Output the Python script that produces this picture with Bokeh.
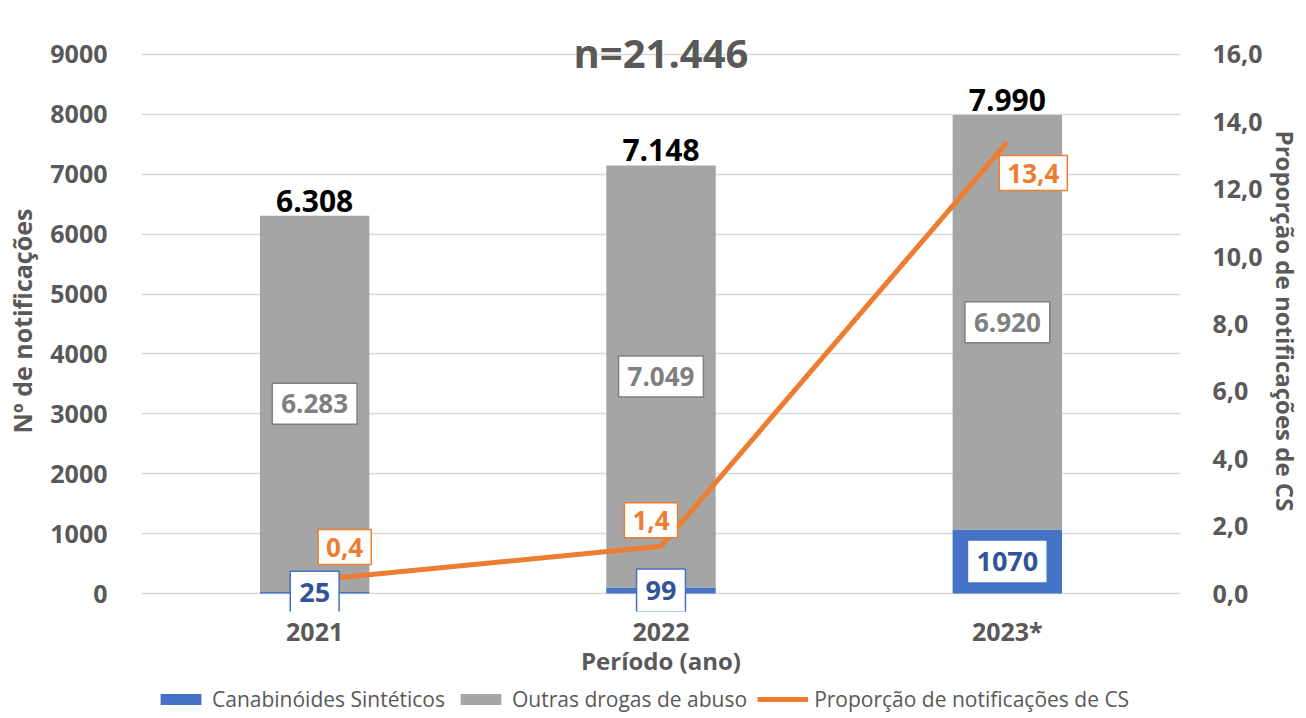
from bokeh.plotting import figure
from bokeh.layouts import column
from bokeh.models import (FactorRange, Range1d, LinearAxis, ColumnDataSource, Label,
                          Legend, LegendItem, FixedTicker, CustomJSTickFormatter)
from bokeh.embed import file_html
from bokeh.resources import INLINE

years = ["2021", "2022", "2023*"]
cs_counts = [25, 99, 1070]
other_counts = [6283, 7049, 6920]
totals = [6308, 7148, 7990]
cs_share = [0.4, 1.4, 13.4]

series_names = ["Canabinóides Sintéticos", "Outras drogas de abuso", "Proporção de notificações de CS"]
y_ticks = [0, 1000, 2000, 3000, 4000, 5000, 6000, 7000, 8000, 9000]
y2_ticks = [0, 2, 4, 6, 8, 10, 12, 14, 16]

# view extents (layout, not data)
Y_LO, Y_HI = -300, 9400
Y2_SCALE = 16 / 9000

# label offsets (style)
share_dx = [30, -10, 26]
share_dy = [33, 26, -31]

FONT = "Open Sans"
BLUE = "#4472C4"
GRAY = "#A5A5A5"
ORANGE = "#ED7D31"
TXT = "#595959"

def thousands(v):
    return f"{v:,}".replace(",", ".")

W, H, HL = 1304, 684, 30
p = figure(x_range=FactorRange(*years, range_padding=0), y_range=Range1d(Y_LO, Y_HI),
           width=W, height=H, output_backend="svg", toolbar_location=None,
           min_border_left=141, min_border_right=W - 1185, min_border_top=30, min_border_bottom=H - 611)
p.extra_y_ranges = {"right": Range1d(Y_LO * Y2_SCALE, Y_HI * Y2_SCALE)}
p.outline_line_color = None
p.background_fill_color = "white"

src = ColumnDataSource(dict(years=years, cs=cs_counts, other=other_counts, share=cs_share))

bars = p.vbar_stack(["cs", "other"], x="years", width=0.316, color=[BLUE, GRAY], source=src, line_color=None)
ln = p.line(x="years", y="share", source=src, y_range_name="right", line_width=5, color=ORANGE)

p.yaxis[0].ticker = FixedTicker(ticks=y_ticks)
p.yaxis[0].axis_label = "Nº de notificações"
yr = LinearAxis(y_range_name="right", ticker=FixedTicker(ticks=y2_ticks),
                formatter=CustomJSTickFormatter(code="return tick.toFixed(1).replace('.', ',');"),
                axis_label="Proporção de notificações de CS")
p.add_layout(yr, "right")
p.xaxis.axis_label = "Período (ano)"

for ax in [p.yaxis[0], yr, p.xaxis[0]]:
    ax.axis_line_color = None
    ax.major_tick_line_color = None
    ax.minor_tick_line_color = None
    ax.major_label_text_font = FONT
    ax.major_label_text_font_style = "bold"
    ax.major_label_text_color = TXT
    ax.major_label_text_font_size = "25px"
    ax.axis_label_text_font = FONT
    ax.axis_label_text_font_style = "bold"
    ax.axis_label_text_color = TXT
    ax.axis_label_text_font_size = "25px"
p.xaxis[0].axis_label_text_font_size = "24px"
yr.axis_label_text_font_size = "24px"
p.yaxis[0].major_label_standoff = 28
yr.major_label_standoff = 26
p.xaxis[0].major_label_standoff = -4
p.xaxis[0].axis_label_standoff = -7
p.yaxis[0].axis_label_standoff = 8
yr.axis_label_standoff = 3

p.xgrid.grid_line_color = None
p.ygrid.grid_line_color = "#D9D9D9"
p.ygrid.grid_line_width = 1.5
p.ygrid.ticker = FixedTicker(ticks=y_ticks)

xs = [i + 0.5 for i in range(len(years))]

def box_label(x, y, text, size, color, border, pad, y_range_name="default", dx=0, dy=0, baseline="middle"):
    kw = dict(x=x, y=y, text=text, text_align="center", text_baseline=baseline, text_font=FONT,
              text_font_style="bold", text_font_size=size, text_color=color,
              x_offset=dx, y_offset=dy, y_range_name=y_range_name)
    if border is not None:
        kw.update(background_fill_color="white", border_line_color=border, border_line_width=1.5,
                  padding=dict(left=pad[0], right=pad[0], top=pad[1], bottom=pad[1]))
    p.add_layout(Label(**kw))

for i, x in enumerate(xs):
    box_label(x, totals[i], thousands(totals[i]), "30px", "black", None, 0, baseline="bottom", dy=4)
    box_label(x, cs_counts[i] + other_counts[i] / 2, thousands(other_counts[i]), "26px", "#7F7F7F", "#7F7F7F", (9, 11))
    box_label(x, cs_counts[i] / 2, str(cs_counts[i]), "27px", "#2F5597", BLUE, (9, 12))
    box_label(x, cs_share[i], f"{cs_share[i]:.1f}".replace(".", ","), "26px", ORANGE, ORANGE, (8, 8),
              y_range_name="right", dx=share_dx[i], dy=share_dy[i])

box_label(1.5, 9030, "n=" + thousands(sum(totals)), "40px", TXT, None, 0)

# legend strip below the chart: its view range lies above all values, so only the legend shows
pl = figure(x_range=FactorRange(*years, range_padding=0), y_range=Range1d(20000, 40000), width=W, height=HL,
            output_backend="svg", toolbar_location=None, min_border=0)
pl.axis.visible = False
pl.grid.visible = False
pl.outline_line_color = None
lbars = pl.vbar_stack(["cs", "other"], x="years", width=0.316, color=[BLUE, GRAY], source=src, line_color=None)
lln = pl.line(x="years", y="share", source=src, line_width=5, color=ORANGE)
legend = Legend(items=[LegendItem(label=series_names[0], renderers=[lbars[0]]),
                       LegendItem(label=series_names[1], renderers=[lbars[1]]),
                       LegendItem(label=series_names[2], renderers=[lln])],
                orientation="horizontal", location=(14, 1), border_line_color=None,
                background_fill_alpha=0, label_text_font=FONT, label_text_font_size="21px",
                label_text_color=TXT, glyph_width=51, glyph_height=14, spacing=10,
                label_standoff=6, padding=2, margin=0)
pl.add_layout(legend, "center")

layout = column(p, pl, spacing=0)
open("out.html", "w").write(file_html(layout, INLINE))
